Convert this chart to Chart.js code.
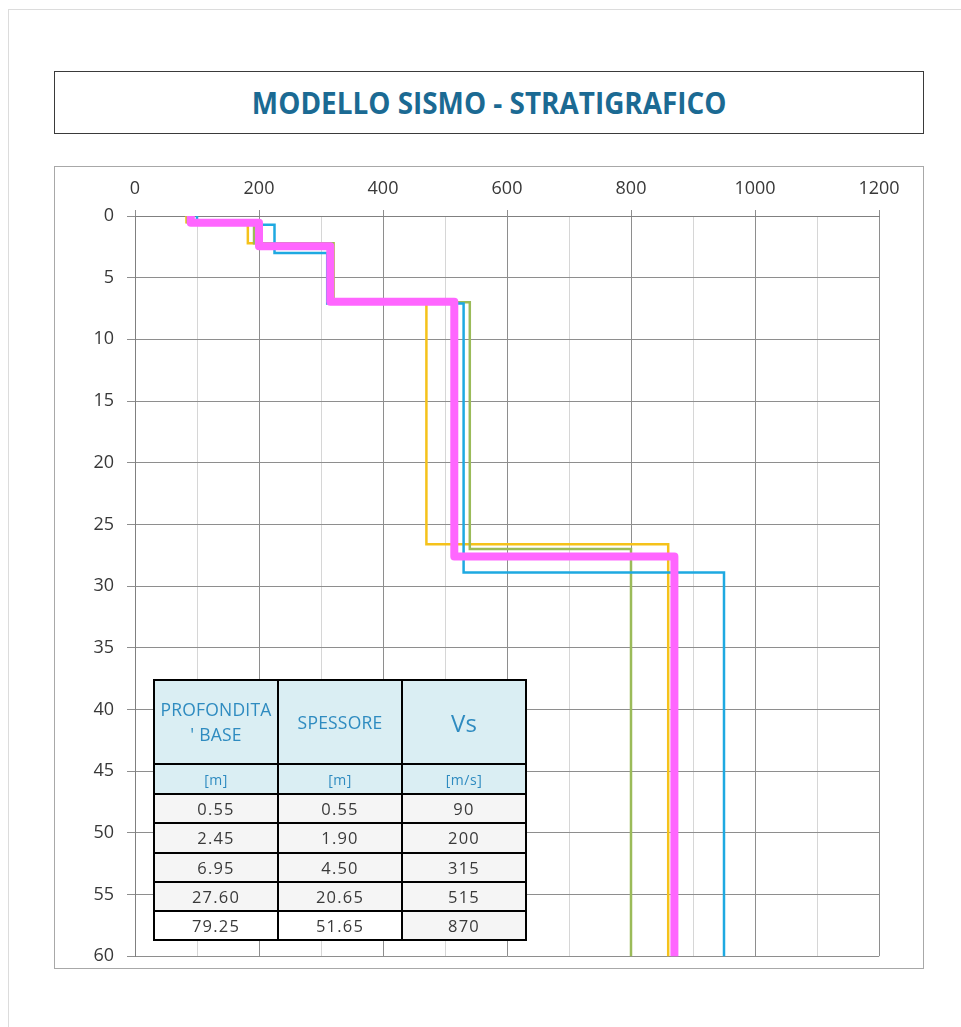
<!DOCTYPE html>
<html>
<head>
<meta charset="utf-8">
<script src="https://cdn.jsdelivr.net/npm/chart.js@4.4.1/dist/chart.umd.min.js"></script>
<style>
  html, body { margin:0; padding:0; background:#fff; }
  body { width:961px; height:1027px; position:relative; overflow:hidden; font-family:"Open Sans", sans-serif; }
  #page { position:absolute; left:8px; top:9px; width:980px; height:1040px; border-left:1px solid #dcdcdc; border-top:1px solid #dcdcdc; }
  #titleBox { position:absolute; left:54px; top:71px; width:870px; height:63px; box-sizing:border-box; border:1px solid #3a3a3a; display:flex; align-items:center; justify-content:center; }
  #titleBox span { font-family:"Open Sans",sans-serif; font-weight:bold; font-size:30px; color:#1b6a93; display:inline-block; transform:scaleX(0.93); white-space:nowrap; }
  #chartBox { position:absolute; left:54px; top:166px; width:870px; height:803px; box-sizing:border-box; border:1px solid #a8a8a8; }
  #c { position:absolute; left:55px; top:167px; }
  #tbl { position:absolute; left:153px; top:679px; border-collapse:collapse; }
  #tbl td { border:2px solid #000; text-align:center; padding:0; font-family:"Open Sans",sans-serif; }
  #tbl tr.h td { background:#daeef3; color:#2e8bc0; height:82px; font-size:17.5px; line-height:25px; letter-spacing:0.2px; }
  #tbl tr.u td { background:#daeef3; color:#2e8bc0; height:28px; font-size:14px; letter-spacing:0.5px; }
  #tbl tr.d td { background:#f5f5f5; color:#3a3a3a; height:27.3px; font-size:16.5px; letter-spacing:1.2px; }
  #tbl tr.d.last td.w { background:#fff; }
</style>
</head>
<body>
<div id="page"></div>
<div id="titleBox"><span>MODELLO SISMO - STRATIGRAFICO</span></div>
<div id="chartBox"></div>
<canvas id="c" width="867" height="813"></canvas>
<table id="tbl">
  <colgroup><col style="width:124px"><col style="width:124px"><col style="width:124px"></colgroup>
  <tr class="h"><td>PROFONDITA<br>' BASE</td><td>SPESSORE</td><td style="font-size:24px">Vs</td></tr>
  <tr class="u"><td>[m]</td><td>[m]</td><td>[m/s]</td></tr>
  <tbody id="tbody"></tbody>
</table>
<script>
// ---- data ----
const tickLabelsX = [0, 200, 400, 600, 800, 1000, 1200];
const tableBase = ["0.55", "2.45", "6.95", "27.60", "79.25"];
const tableThick = ["0.55", "1.90", "4.50", "20.65", "51.65"];
const tableVs = ["90", "200", "315", "515", "870"];

const magentaBase = [0.55, 2.45, 6.95, 27.60, 79.25];
const magentaVs   = [90, 200, 315, 515, 870];
const yellowBase  = [0.5, 2.2, 6.8, 26.6, 79.25];
const yellowVs    = [83, 182, 320, 470, 860];
const blueBase    = [0.7, 3.0, 7.1, 28.9, 79.25];
const blueVs      = [100, 225, 310, 530, 950];
const greenBase   = [0.5, 2.2, 7.0, 27.0, 79.25];
const greenVs     = [85, 192, 320, 540, 800];

function profile(vs, base) {
  const pts = [];
  let top = 0;
  for (let i = 0; i < vs.length; i++) {
    pts.push({x: vs[i], y: top});
    pts.push({x: vs[i], y: base[i]});
    top = base[i];
  }
  return pts;
}

// table rows
const tb = document.getElementById('tbody');
for (let i = 0; i < tableBase.length; i++) {
  const tr = document.createElement('tr');
  tr.className = 'd' + (i === tableBase.length - 1 ? ' last' : '');
  tr.innerHTML = '<td class="w">' + tableBase[i] + '</td><td class="w">' + tableThick[i] + '</td><td>' + tableVs[i] + '</td>';
  tb.appendChild(tr);
}

const major = '#8e8e8e', minor = '#d6d6d6';
const tickFont = {family: '"Open Sans", sans-serif', size: 18};

new Chart(document.getElementById('c'), {
  type: 'scatter',
  data: {
    datasets: [
      {data: profile(magentaVs, magentaBase), showLine: true, borderColor: '#ff66ff', borderWidth: 8, borderJoinStyle: 'round', borderCapStyle: 'round', pointRadius: 0},
      {data: profile(blueVs, blueBase), showLine: true, borderColor: '#1ea9e1', borderWidth: 2.5, pointRadius: 0},
      {data: profile(greenVs, greenBase), showLine: true, borderColor: '#9bbb59', borderWidth: 2.5, pointRadius: 0},
      {data: profile(yellowVs, yellowBase), showLine: true, borderColor: '#f5c21b', borderWidth: 2.5, pointRadius: 0}
    ]
  },
  options: {
    responsive: false,
    animation: false,
    devicePixelRatio: 1,
    layout: {padding: {left: 0, right: 43, top: 0, bottom: 0}},
    plugins: {legend: {display: false}, tooltip: {enabled: false}},
    scales: {
      x: {
        type: 'linear', position: 'top', min: 0, max: 1200,
        afterFit: s => { s.height = 49; },
        ticks: {
          stepSize: 100, autoSkip: false, maxRotation: 0, padding: 10, color: '#383838', font: tickFont,
          callback: v => tickLabelsX.includes(v) ? String(v) : ''
        },
        grid: {
          color: c => (c.tick && tickLabelsX.includes(c.tick.value)) ? major : minor,
          tickColor: c => (c.tick && tickLabelsX.includes(c.tick.value)) ? major : 'rgba(0,0,0,0)',
          tickLength: 6, lineWidth: 1
        },
        border: {display: true, color: '#808080', width: 1}
      },
      y: {
        type: 'linear', reverse: true, min: 0, max: 60,
        afterFit: s => { s.width = 80; },
        ticks: {stepSize: 5, padding: 13, color: '#383838', font: tickFont},
        grid: {color: major, tickColor: major, tickLength: 8, lineWidth: 1},
        border: {display: true, color: '#808080', width: 1}
      }
    }
  }
});
</script>
</body>
</html>
